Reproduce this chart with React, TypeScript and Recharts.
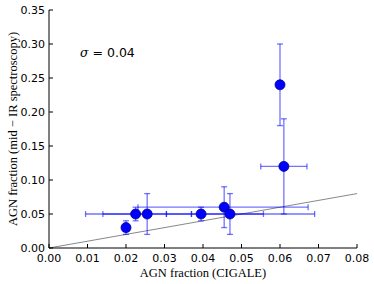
import {
  ErrorBar,
  Label,
  ReferenceLine,
  Scatter,
  ScatterChart,
  XAxis,
  YAxis,
} from 'recharts';

// CIGALE AGN fraction (x) vs mid-IR spectroscopy AGN fraction (y)
const cigale = [0.02, 0.0225, 0.0255, 0.0395, 0.0455, 0.047, 0.06, 0.061];
const cigaleLow = [0.02, 0.0095, 0.014, 0.0305, 0.0231, 0.037, 0.06, 0.055];
const cigaleHigh = [0.02, 0.037, 0.0305, 0.0557, 0.0673, 0.069, 0.06, 0.067];
const midIR = [0.03, 0.05, 0.05, 0.05, 0.06, 0.05, 0.24, 0.12];
const midIRLow = [0.02, 0.04, 0.02, 0.04, 0.03, 0.02, 0.18, 0.05];
const midIRHigh = [0.04, 0.06, 0.08, 0.06, 0.09, 0.08, 0.3, 0.19];

const xTicks = [0, 0.01, 0.02, 0.03, 0.04, 0.05, 0.06, 0.07, 0.08];
const yTicks = [0, 0.05, 0.1, 0.15, 0.2, 0.25, 0.3, 0.35];
const oneToOne = [0, 0.08];
const sigmaText = '0.04';

const points = cigale.map((x, i) => ({
  x,
  y: midIR[i],
  ex: [x - cigaleLow[i], cigaleHigh[i] - x],
  ey: [midIR[i] - midIRLow[i], midIRHigh[i] - midIR[i]],
}));

const TICK_FONT = { fontFamily: '"DejaVu Sans", sans-serif', fontSize: 11, fill: '#000' };
const LABEL_FONT = { fontFamily: '"Liberation Serif", serif', fontSize: 12.5, fill: '#000' };
const TICK_LEN = 4;

function BottomTick({ x, y, payload }: any) {
  return (
    <g>
      <line x1={x} y1={y} x2={x} y2={y - TICK_LEN} stroke="#000" />
      <text x={x} y={y + 14} textAnchor="middle" {...TICK_FONT}>
        {payload.value.toFixed(2)}
      </text>
    </g>
  );
}

function TopTick({ x, y }: any) {
  return <line x1={x} y1={y} x2={x} y2={y + TICK_LEN} stroke="#000" />;
}

function LeftTick({ x, y, payload }: any) {
  return (
    <g>
      <line x1={x} y1={y} x2={x + TICK_LEN} y2={y} stroke="#000" />
      <text x={x - 4} y={y + 4} textAnchor="end" {...TICK_FONT}>
        {payload.value.toFixed(2)}
      </text>
    </g>
  );
}

function RightTick({ x, y }: any) {
  return <line x1={x} y1={y} x2={x - TICK_LEN} y2={y} stroke="#000" />;
}

export default function App() {
  return (
    <div style={{ width: 374, height: 284, background: '#fff' }}>
      <style>{'body{margin:0}'}</style>
      <ScatterChart width={374} height={284} margin={{ top: 10, right: 17, bottom: 0, left: 0 }}>
        <XAxis
          xAxisId="b"
          type="number"
          dataKey="x"
          domain={[0, 0.08]}
          ticks={xTicks}
          orientation="bottom"
          height={36}
          tickSize={0}
          tickMargin={0}
          tickLine={false}
          axisLine={{ stroke: '#000' }}
          tick={<BottomTick />}
          interval={0}
        >
          <Label
            content={({ viewBox }: any) => (
              <text x={viewBox.x + viewBox.width / 2} y={viewBox.y + 29} textAnchor="middle" {...LABEL_FONT}>
                AGN fraction (CIGALE)
              </text>
            )}
          />
        </XAxis>
        <XAxis
          xAxisId="t"
          type="number"
          dataKey="x"
          domain={[0, 0.08]}
          ticks={xTicks}
          orientation="top"
          height={0}
          tickSize={0}
          tickMargin={0}
          tickLine={false}
          axisLine={{ stroke: '#000' }}
          tick={<TopTick />}
          interval={0}
        />
        <YAxis
          yAxisId="l"
          type="number"
          dataKey="y"
          domain={[0, 0.35]}
          ticks={yTicks}
          orientation="left"
          width={49}
          tickSize={0}
          tickMargin={0}
          tickLine={false}
          axisLine={{ stroke: '#000' }}
          tick={<LeftTick />}
          interval={0}
        >
          <Label
            content={({ viewBox }: any) => {
              const cx = 14;
              const cy = viewBox.y + viewBox.height / 2;
              return (
                <text
                  x={cx}
                  y={cy}
                  textAnchor="middle"
                  dominantBaseline="middle"
                  transform={`rotate(-90 ${cx} ${cy})`}
                  {...LABEL_FONT}
                >
                  AGN fraction (mid − IR spectroscopy)
                </text>
              );
            }}
          />
        </YAxis>
        <YAxis
          yAxisId="r"
          type="number"
          dataKey="y"
          domain={[0, 0.35]}
          ticks={yTicks}
          orientation="right"
          width={0}
          tickSize={0}
          tickMargin={0}
          tickLine={false}
          axisLine={{ stroke: '#000' }}
          tick={<RightTick />}
          interval={0}
        />
        <ReferenceLine
          xAxisId="b"
          yAxisId="l"
          segment={[
            { x: oneToOne[0], y: oneToOne[0] },
            { x: oneToOne[1], y: oneToOne[1] },
          ]}
          stroke="#888"
          strokeWidth={1}
          ifOverflow="visible"
        />
        <Scatter
          xAxisId="b"
          yAxisId="l"
          data={points}
          fill="#0000ff"
          shape={(p: any) => (
            <circle cx={p.cx} cy={p.cy} r={5} fill="#0000ff" stroke="#00008b" strokeWidth={0.8} />
          )}
          isAnimationActive={false}
        >
          <ErrorBar dataKey="ey" direction="y" width={3} stroke="#0000ff" strokeOpacity={0.55} strokeWidth={1.3} />
          <ErrorBar dataKey="ex" direction="x" width={3} stroke="#0000ff" strokeOpacity={0.55} strokeWidth={1.3} />
        </Scatter>
        <text x={80} y={57} fontFamily='"DejaVu Sans", sans-serif' fontSize={12.5} fill="#000">
          <tspan fontStyle="italic" fontFamily='"DejaVu Serif", serif'>σ</tspan> = {sigmaText}
        </text>
      </ScatterChart>
    </div>
  );
}
